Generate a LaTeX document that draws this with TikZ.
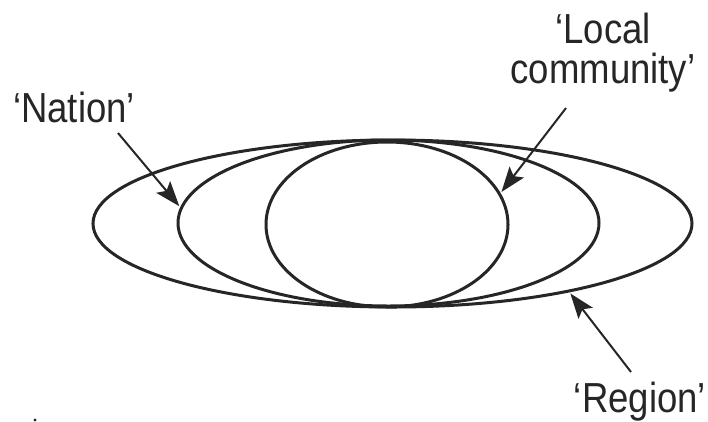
\documentclass[tikz,border=0pt]{standalone}
\usepackage{fontspec}
\newfontfamily\labfont{Liberation Sans}[FakeStretch=0.87]
\usetikzlibrary{arrows.meta,shapes.geometric}

\begin{document}
\begin{tikzpicture}[x=1pt,y=-1pt,
  ring/.style={draw=black!85,line width=3pt,ellipse,inner sep=0pt,outer sep=0pt},
  lab/.style={font=\labfont\fontsize{42}{40}\selectfont,text=black!85,inner sep=0pt,align=center},
  ar/.style={-{Stealth[length=25pt,width=18pt,inset=5pt]},line width=2pt,draw=black!85,shorten >=3pt}]

 \useasboundingbox (0,0) rectangle (708,421);

 % ---- nested ellipses ----
 \node[ring,minimum width=599pt,minimum height=167pt] (region) at (392.5,223.5) {};
 \node[ring,minimum width=421pt,minimum height=166pt] (nation) at (388.5,223) {};
 \node[ring,minimum width=242pt,minimum height=165pt] (local) at (387,224.5) {};

 % ---- labels ----
 \node[lab,anchor=base] (nationlab) at (74,122) {‘Nation’};
 \node[lab,anchor=north] (locallab) at (603,12.5) {‘Local\\community’};
 \node[lab,anchor=base] (regionlab) at (640,412) {‘Region’};

 % ---- pointers ----
 \coordinate (nationtail) at (118,133);
 \coordinate (localtail) at (566,108);
 \coordinate (regiontail) at (631,372);
 \draw[ar] (nationtail) -- (nation.176);
 \draw[ar] (localtail) -- (local.15);
 \draw[ar] (regiontail) -- (region.-21.5);

 \fill[black!85] (35,420) circle (1.6pt);
\end{tikzpicture}
\end{document}
